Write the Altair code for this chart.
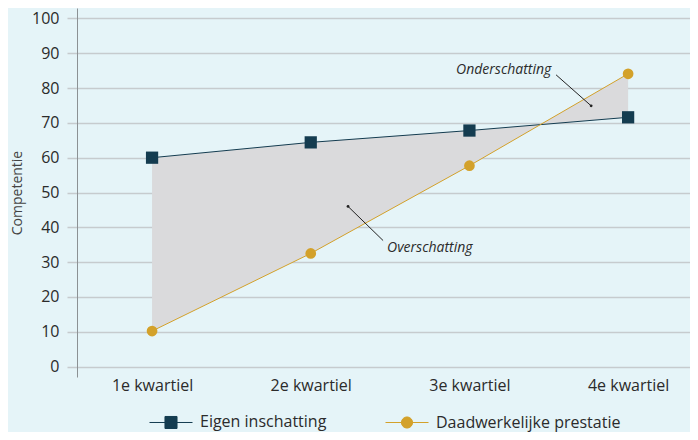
import json
import altair as alt
import pandas as pd

categories = ["1e kwartiel", "2e kwartiel", "3e kwartiel", "4e kwartiel"]
positions = [1, 2, 3, 4]
eigen = [60, 64.4, 67.8, 71.6]
prestatie = [10.2, 32.5, 57.7, 84.1]
series_names = ["Eigen inschatting", "Daadwerkelijke prestatie"]
y_ticks = [0, 10, 20, 30, 40, 50, 60, 70, 80, 90, 100]

NAVY = "#143c50"
GOLD = "#d3a12a"
BG = "#e5f4f8"
GRID = "#c6cbce"

wide = pd.DataFrame({"pos": positions, "cat": categories, "eigen": eigen, "prestatie": prestatie})
long = pd.concat([
    pd.DataFrame({"pos": positions, "cat": categories, "val": eigen, "serie": series_names[0]}),
    pd.DataFrame({"pos": positions, "cat": categories, "val": prestatie, "serie": series_names[1]}),
])

# annotations (text + leader lines)
ann_text = pd.DataFrame({"x": [2.916, 2.481], "y": [85.2, 34.0], "label": ["Onderschatting", "Overschatting"]})
ann_line = pd.DataFrame({"x": [3.546, 2.456], "y": [83.8, 36.2], "x2": [3.767, 2.235], "y2": [74.9, 46.0]})

label_expr = json.dumps(categories) + "[datum.value - 1]"

x_scale = alt.Scale(domain=[0.527, 4.39], nice=False, zero=False)
y_scale = alt.Scale(domain=[-3, 103], nice=False, zero=False)

x_axis = alt.Axis(values=positions, labelExpr=label_expr, title=None, domain=False, ticks=False,
                  grid=False, labelFont="Open Sans", labelFontSize=16, labelColor="#2b2b2b",
                  labelPadding=0, labelOverlap=False)
y_axis = alt.Axis(values=y_ticks, title="Competentie", grid=True, gridColor=GRID, gridWidth=1.5,
                  tickColor=GRID, tickSize=10, tickWidth=1.5, domainColor="#8c9194", domainWidth=1,
                  labelFont="Open Sans", labelFontSize=16, labelColor="#2b2b2b", labelPadding=8,
                  labelOverlap=False, labelFlush=False,
                  titleFont="Open Sans", titleFontSize=14, titleFontWeight="normal", titleColor="#444444",
                  titlePadding=7)


def X(field):
    return alt.X(field, scale=x_scale, axis=x_axis)


def Y(field):
    return alt.Y(field, scale=y_scale, axis=y_axis)


sq_path = "M-1,0H1M-0.28,-0.28H0.28V0.28H-0.28Z"
ci_path = "M-1,0H1M0.26,0A0.26,0.26,0,1,1,-0.26,0A0.26,0.26,0,1,1,0.26,0Z"

legend = alt.Legend(
    title=None, orient="none", direction="horizontal", legendX=72, legendY=392,
    symbolSize=1849, symbolStrokeWidth=1, symbolOpacity=1, labelFont="Open Sans", labelFontSize=16,
    labelColor="#2b2b2b", labelOffset=7, columnPadding=56, labelLimit=400,
)
col_scale = alt.Scale(domain=series_names, range=[NAVY, GOLD])

area = alt.Chart(wide).mark_area(color="#dadadc", opacity=1).encode(
    x=X("pos:Q"),
    y=Y("eigen:Q"),
    y2="prestatie:Q",
)

lines = alt.Chart(long).mark_line(strokeWidth=1).encode(
    x=X("pos:Q"),
    y=Y("val:Q"),
    stroke=alt.Stroke("serie:N", scale=col_scale, legend=legend, sort=series_names),
    detail="serie:N",
)

# tiny layer that only drives the legend (line + marker symbols); hidden under the markers
legend_layer = alt.Chart(long).mark_point(opacity=1, size=1, strokeWidth=1).encode(
    x=X("pos:Q"),
    y=Y("val:Q"),
    fill=alt.Fill("serie:N", scale=col_scale, legend=legend, sort=series_names),
    stroke=alt.Stroke("serie:N", scale=col_scale, legend=legend, sort=series_names),
    shape=alt.Shape("serie:N", scale=alt.Scale(domain=series_names, range=[sq_path, ci_path]),
                    legend=legend, sort=series_names),
)

sq_points = alt.Chart(long).transform_filter(alt.datum.serie == series_names[0]).mark_point(
    filled=True, opacity=1, shape="square", size=150, color=NAVY).encode(
    x=X("pos:Q"),
    y=Y("val:Q"),
)
ci_points = alt.Chart(long).transform_filter(alt.datum.serie == series_names[1]).mark_point(
    filled=True, opacity=1, shape="circle", size=115, color=GOLD).encode(
    x=X("pos:Q"),
    y=Y("val:Q"),
)

leaders = alt.Chart(ann_line).mark_rule(color="#222222", strokeWidth=1).encode(
    x=X("x:Q"), y=Y("y:Q"), x2="x2:Q", y2="y2:Q")
dots = alt.Chart(ann_line).mark_point(filled=True, color="#222222", size=8, opacity=1).encode(
    x=X("x2:Q"), y=Y("y2:Q"))
texts = alt.Chart(ann_text).mark_text(align="left", baseline="middle", font="Open Sans",
                                      fontStyle="italic", fontSize=14, color="#2b2b2b").encode(
    x=X("x:Q"), y=Y("y:Q"), text="label:N")

chart = alt.layer(area, lines, legend_layer, sq_points, ci_points, leaders, dots, texts).properties(
    width=613, height=369,
    autosize=alt.AutoSizeParams(type="none"),
    padding={"left": 69, "top": 0, "right": 0, "bottom": 55},
    background=BG,
).configure_view(stroke=None)

chart.save("out.html", embed_options={"renderer": "svg", "actions": False})
